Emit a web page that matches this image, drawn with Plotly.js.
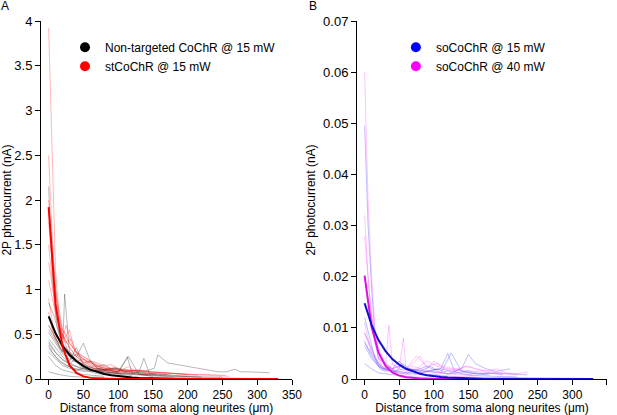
<!DOCTYPE html>
<html>
<head>
<meta charset="utf-8">
<script src="https://cdn.plot.ly/plotly-3.0.1.min.js"></script>
<style>
  html, body { margin: 0; padding: 0; background: #fff; }
  #chart { width: 617px; height: 415px; }
</style>
</head>
<body>
<div id="chart"></div>
<script>
// ---- panel A: individual neurites, non-targeted CoChR (grey) ----
var ntX = [
    [0, 8, 15, 22, 30, 40, 50, 60, 75, 90, 105, 120],
    [0, 10, 20, 23, 30, 40, 50, 60, 70, 85, 100, 115, 130, 150],
    [0, 10, 20, 30, 45, 60, 80, 100, 120, 140, 160, 180],
    [0, 5, 15, 25, 35, 50, 65, 80, 95, 110, 125, 140, 152, 157, 171, 244, 256, 268, 276, 287, 318],
    [0, 10, 20, 30, 40, 50, 60, 70, 80, 95, 110],
    [0, 10, 20, 30, 40, 55, 70, 85, 100, 113, 120, 130, 137, 145, 160, 175, 200],
    [0, 15, 30, 50, 70, 90, 110, 130],
    [0, 5, 12, 20, 30, 40, 50, 65, 80, 100, 120, 140, 160, 180, 200, 220],
    [0, 10, 20, 30, 40, 50, 60, 75, 90],
    [0, 10, 20, 35, 50, 70, 90, 110, 130, 150, 170, 190, 210, 230, 250],
    [0, 10, 20, 30, 40, 50, 65, 80],
    [0, 8, 16, 25, 35, 45, 55, 65, 80, 95, 110, 125, 140, 155],
    [0, 10, 20, 30, 40, 50, 60, 70, 80, 90, 100, 110, 120, 135, 150, 170],
    [0, 6, 14, 22, 30, 38, 46, 55, 65, 75, 85, 95, 105]
];
var ntY = [
    [0.85, 0.7, 0.5, 0.35, 0.25, 0.2, 0.15, 0.1, 0.08, 0.06, 0.05, 0.04],
    [0.6, 0.45, 0.3, 0.95, 0.3, 0.25, 0.4, 0.2, 0.12, 0.1, 0.08, 0.25, 0.05, 0.03],
    [0.45, 0.35, 0.25, 0.18, 0.12, 0.1, 0.08, 0.06, 0.05, 0.04, 0.03, 0.02],
    [0.38, 0.3, 0.2, 0.15, 0.12, 0.1, 0.09, 0.1, 0.12, 0.08, 0.1, 0.09, 0.12, 0.27, 0.18, 0.08, 0.08, 0.11, 0.08, 0.08, 0.07],
    [0.35, 0.25, 0.18, 0.14, 0.1, 0.12, 0.08, 0.06, 0.05, 0.04, 0.03],
    [0.3, 0.22, 0.15, 0.12, 0.1, 0.08, 0.09, 0.11, 0.07, 0.25, 0.06, 0.08, 0.23, 0.06, 0.05, 0.04, 0.03],
    [0.08, 0.05, 0.03, 0.02, 0.02, 0.01, 0.01, 0.01],
    [2.15, 1.2, 0.6, 0.4, 0.3, 0.2, 0.15, 0.12, 0.1, 0.08, 0.06, 0.05, 0.04, 0.03, 0.03, 0.02],
    [0.52, 0.4, 0.28, 0.2, 0.35, 0.15, 0.1, 0.07, 0.05],
    [0.42, 0.3, 0.22, 0.15, 0.12, 0.09, 0.07, 0.06, 0.05, 0.04, 0.035, 0.03, 0.025, 0.02, 0.02],
    [0.25, 0.15, 0.1, 0.08, 0.06, 0.05, 0.04, 0.03],
    [0.7, 0.5, 0.35, 0.3, 0.2, 0.18, 0.15, 0.12, 0.1, 0.13, 0.08, 0.07, 0.06, 0.05],
    [0.55, 0.42, 0.3, 0.22, 0.28, 0.18, 0.2, 0.14, 0.16, 0.11, 0.12, 0.09, 0.08, 0.07, 0.06, 0.05],
    [0.4, 0.33, 0.26, 0.2, 0.17, 0.22, 0.14, 0.12, 0.1, 0.12, 0.08, 0.07, 0.06]
];

// ---- panel A: stCoChR (red) ----
var stX = [
    [0, 5, 10, 15, 20, 30, 40, 50, 60, 75, 90, 105, 120, 140],
    [0, 5, 10, 15, 20, 25, 35, 45, 55, 70, 85, 100, 120, 140, 160, 180, 200],
    [0, 5, 10, 20, 30, 40, 50, 60, 70, 80, 95, 110, 130, 150, 170, 190, 210, 230, 255],
    [0, 8, 15, 22, 30, 38, 45, 55, 65, 80, 95, 110, 125],
    [0, 6, 12, 20, 28, 35, 45, 55, 70, 85, 100],
    [0, 5, 10, 18, 25, 32, 40, 50, 60, 70, 80, 90, 100, 115, 130, 150, 170, 195, 215],
    [0, 10, 20, 30, 40, 50, 60, 70, 80, 90, 100, 110],
    [0, 5, 10, 15, 20, 25, 30, 40, 50, 60, 75, 90, 110, 130, 150, 175],
    [0, 10, 20, 30, 40, 50, 60, 80, 100, 120, 140, 160, 180, 200, 230, 260],
    [0, 5, 10, 15, 20, 30, 40, 50, 60, 70, 85, 100, 115, 130, 145]
];
var stY = [
    [3.92, 2.4, 1.2, 0.7, 0.5, 0.35, 0.25, 0.18, 0.12, 0.1, 0.09, 0.08, 0.06, 0.05],
    [2.5, 1.6, 1.0, 0.6, 0.45, 0.6, 0.35, 0.25, 0.2, 0.15, 0.12, 0.1, 0.1, 0.08, 0.07, 0.06, 0.05],
    [2.0, 1.5, 1.0, 0.55, 0.4, 0.3, 0.22, 0.18, 0.15, 0.12, 0.1, 0.09, 0.1, 0.08, 0.07, 0.06, 0.05, 0.05, 0.04],
    [1.1, 0.8, 0.6, 0.45, 0.55, 0.3, 0.25, 0.2, 0.15, 0.12, 0.1, 0.08, 0.07],
    [0.9, 0.6, 0.45, 0.5, 0.3, 0.25, 0.2, 0.15, 0.1, 0.08, 0.06],
    [1.5, 1.1, 0.7, 0.5, 0.4, 0.45, 0.3, 0.25, 0.2, 0.18, 0.15, 0.16, 0.12, 0.1, 0.09, 0.08, 0.06, 0.05, 0.04],
    [0.6, 0.45, 0.35, 0.28, 0.2, 0.22, 0.15, 0.12, 0.1, 0.08, 0.07, 0.06],
    [1.75, 1.3, 0.95, 0.7, 0.55, 0.5, 0.4, 0.3, 0.25, 0.2, 0.15, 0.12, 0.1, 0.08, 0.06, 0.05],
    [1.3, 0.8, 0.5, 0.35, 0.25, 0.2, 0.15, 0.12, 0.1, 0.09, 0.08, 0.07, 0.06, 0.05, 0.04, 0.03],
    [0.75, 0.55, 0.45, 0.4, 0.35, 0.3, 0.2, 0.15, 0.2, 0.12, 0.1, 0.08, 0.14, 0.06, 0.05]
];

// ---- panel B: soCoChR @ 15 mW (blue) ----
var so15X = [
    [0, 5, 10, 15, 20, 30, 40, 50, 60, 75, 90, 110, 130, 150, 170, 190, 210, 235],
    [0, 8, 15, 22, 30, 40, 50, 60, 70, 80, 90, 100, 110, 120, 130, 140, 150, 160, 175, 190, 210],
    [0, 10, 20, 30, 40, 50, 60, 70, 80, 90, 100, 110, 120],
    [0, 10, 18, 25, 35, 45, 55, 65, 80, 95, 110, 125, 140, 160, 180],
    [0, 10, 20, 30, 40, 50, 60, 70, 85, 100],
    [0, 6, 12, 20, 28, 36, 45, 55, 65, 75, 90, 105, 120, 135, 150, 165, 180, 200],
    [0, 10, 20, 30, 45, 60, 75, 90, 105, 120, 135, 150, 170, 195, 220]
];
var so15Y = [
    [0.0495, 0.03, 0.018, 0.008, 0.004, 0.003, 0.002, 0.0025, 0.002, 0.0018, 0.0015, 0.002, 0.0012, 0.0015, 0.001, 0.0012, 0.001, 0.0008],
    [0.012, 0.008, 0.004, 0.002, 0.0015, 0.002, 0.0035, 0.002, 0.0015, 0.002, 0.0025, 0.0018, 0.002, 0.005, 0.0015, 0.002, 0.0048, 0.003, 0.002, 0.0015, 0.002],
    [0.009, 0.006, 0.003, 0.002, 0.0015, 0.0012, 0.001, 0.0015, 0.001, 0.0008, 0.001, 0.0006, 0.0005],
    [0.007, 0.005, 0.0035, 0.002, 0.0018, 0.0015, 0.003, 0.002, 0.0015, 0.0025, 0.0012, 0.0051, 0.0015, 0.001, 0.0008],
    [0.003, 0.002, 0.0012, 0.001, 0.0008, 0.0006, 0.0005, 0.0004, 0.0003, 0.0002],
    [0.0075, 0.0055, 0.004, 0.0025, 0.002, 0.0022, 0.0015, 0.002, 0.0018, 0.0012, 0.0015, 0.002, 0.001, 0.0018, 0.0012, 0.001, 0.0012, 0.0008],
    [0.0065, 0.004, 0.0025, 0.0018, 0.0015, 0.0012, 0.001, 0.0015, 0.0012, 0.001, 0.0012, 0.0008, 0.0006, 0.0005, 0.0004]
];

// ---- panel B: soCoChR @ 40 mW (magenta) ----
var so40X = [
    [0, 5, 10, 15, 20, 30, 40, 50, 60, 70, 80, 90, 100, 115, 130, 145, 160, 175, 190, 205, 220, 235],
    [0, 5, 10, 15, 20, 25, 30, 35, 40, 50, 56, 60, 70, 85, 100, 120, 140, 160],
    [0, 8, 15, 22, 30, 40, 50, 60, 75, 90, 105, 120, 135, 150, 165, 180, 200],
    [0, 5, 10, 18, 25, 35, 45, 55, 70, 85, 100, 115, 130, 150, 170],
    [0, 8, 16, 24, 32, 40, 50, 60, 70, 80, 95, 110, 125, 140, 155],
    [0, 10, 20, 30, 40, 50, 60, 75, 90, 105, 120, 140, 160, 180, 200, 220]
];
var so40Y = [
    [0.060, 0.035, 0.02, 0.01, 0.005, 0.003, 0.002, 0.0025, 0.002, 0.003, 0.0045, 0.002, 0.0035, 0.002, 0.0015, 0.0025, 0.002, 0.0015, 0.002, 0.0012, 0.001, 0.0014],
    [0.032, 0.02, 0.012, 0.007, 0.004, 0.0025, 0.002, 0.0105, 0.003, 0.002, 0.008, 0.0015, 0.002, 0.0012, 0.0015, 0.001, 0.0008, 0.0006],
    [0.028, 0.015, 0.008, 0.004, 0.0025, 0.002, 0.0035, 0.002, 0.0045, 0.0025, 0.003, 0.0022, 0.002, 0.0025, 0.0018, 0.0015, 0.0012],
    [0.011, 0.008, 0.005, 0.003, 0.002, 0.0015, 0.0012, 0.001, 0.0008, 0.0009, 0.0007, 0.0006, 0.0005, 0.0004, 0.0003],
    [0.009, 0.006, 0.004, 0.0025, 0.002, 0.003, 0.002, 0.0015, 0.0025, 0.002, 0.0015, 0.0012, 0.0018, 0.001, 0.0008],
    [0.02, 0.012, 0.006, 0.003, 0.002, 0.0015, 0.0012, 0.002, 0.0035, 0.0025, 0.002, 0.0018, 0.0015, 0.0012, 0.001, 0.0008]
];

// ---- fitted decay curves ----
var fitX = [0, 10, 20, 30, 40, 50, 60, 70, 80, 90, 100, 110, 120, 130, 140, 150, 160,
    170, 180, 190, 200, 210, 220, 230, 240, 250, 260, 270, 280, 290, 300, 310, 320, 330];
var ntFit = [0.70, 0.51, 0.37, 0.27, 0.20, 0.145, 0.105, 0.077, 0.056, 0.041, 0.030, 0.022,
    0.016, 0.012, 0.0085, 0.006, 0.0045, 0.003, 0.002, 0.0015, 0.001, 0.0008, 0.0005,
    0.0004, 0.0003, 0.0002, 0.0002, 0.0001, 0.0001, 0, 0, 0, 0, 0];
var stFit = [1.92, 0.83, 0.36, 0.155, 0.067, 0.029, 0.0125, 0.005, 0.002, 0.001, 0.0004,
    0.0002, 0.0001, 0, 0, 0, 0, 0, 0, 0, 0, 0, 0, 0, 0, 0, 0, 0, 0, 0, 0, 0, 0, 0];
var so15Fit = [0.0148, 0.0106, 0.0076, 0.0055, 0.0039, 0.0028, 0.0020, 0.00145, 0.00104,
    0.00075, 0.00053, 0.00038, 0.00027, 0.0002, 0.00014, 0.0001, 0.00007, 0.00005,
    0.00004, 0.00003, 0.00002, 0.00001, 0, 0, 0, 0, 0, 0, 0, 0, 0, 0, 0, 0];
var so40Fit = [0.0202, 0.0102, 0.0052, 0.0026, 0.0013, 0.00067, 0.00034, 0.00017, 0.00009,
    0.00004, 0.00002, 0.00001, 0, 0, 0, 0, 0, 0, 0, 0, 0, 0, 0, 0, 0, 0, 0, 0, 0, 0, 0, 0, 0, 0];

var legendA = ['Non-targeted CoChR @ 15 mW', 'stCoChR @ 15 mW'];
var legendB = ['soCoChR @ 15 mW', 'soCoChR @ 40 mW'];

var FONT = 'Liberation Sans, Arial, sans-serif';
var traces = [];

function addThin(xs, ys, color, xa, ya) {
    for (var i = 0; i < xs.length; i++) {
        traces.push({
            x: xs[i], y: ys[i], xaxis: xa, yaxis: ya,
            type: 'scatter', mode: 'lines',
            line: {color: color, width: 1},
            showlegend: false, hoverinfo: 'skip'
        });
    }
}

addThin(ntX, ntY, 'rgba(0,0,0,0.28)', 'x', 'y');
addThin(stX, stY, 'rgba(255,0,0,0.28)', 'x', 'y');
addThin(so15X, so15Y, 'rgba(40,40,255,0.3)', 'x2', 'y2');
addThin(so40X, so40Y, 'rgba(255,60,255,0.3)', 'x2', 'y2');

function addFit(y, color, xa, ya) {
    traces.push({
        x: fitX, y: y, xaxis: xa, yaxis: ya,
        type: 'scatter', mode: 'lines', line: {color: color, width: 2},
        showlegend: false
    });
}
addFit(ntFit, '#000000', 'x', 'y');
addFit(stFit, '#ff0000', 'x', 'y');
addFit(so40Fit, '#e010e0', 'x2', 'y2');
addFit(so15Fit, '#1010d0', 'x2', 'y2');

// legend-only entries (round markers as in the figure)
function addKey(name, color, xa, ya, leg) {
    traces.push({
        x: [null], y: [null], xaxis: xa, yaxis: ya,
        type: 'scatter', mode: 'markers', name: name,
        marker: {color: color, size: 10}, legend: leg
    });
}
addKey(legendA[0], '#000000', 'x', 'y', 'legend');
addKey(legendA[1], '#ff0000', 'x', 'y', 'legend');
addKey(legendB[0], '#0000ff', 'x2', 'y2', 'legend2');
addKey(legendB[1], '#ff00ff', 'x2', 'y2', 'legend2');

function xAxis(domain, anchor) {
    return {
        domain: domain, anchor: anchor, range: [-11, 350],
        tickvals: [0, 50, 100, 150, 200, 250, 300, 350],
        ticks: 'outside', ticklen: 5, tickwidth: 1, tickcolor: '#000',
        showline: true, linecolor: '#000', linewidth: 1,
        showgrid: false, zeroline: false,
        tickfont: {family: FONT, size: 12, color: '#000'},
        title: {text: 'Distance from soma along neurites (μm)',
            font: {family: FONT, size: 12, color: '#000'}, standoff: 4}
    };
}
function yAxis(range, dtick, anchor) {
    return {
        anchor: anchor, range: range, dtick: dtick,
        ticks: 'outside', ticklen: 5, tickwidth: 1, tickcolor: '#000',
        showline: true, linecolor: '#000', linewidth: 1,
        showgrid: false, zeroline: false,
        tickfont: {family: FONT, size: 13, color: '#000'},
        title: {text: '2P photocurrent (nA)',
            font: {family: FONT, size: 12, color: '#000'}, standoff: 4}
    };
}

var layout = {
    width: 617,
    height: 415,
    margin: {l: 41, r: 10, t: 21, b: 36},
    paper_bgcolor: '#fff',
    plot_bgcolor: '#fff',
    font: {family: FONT, size: 12, color: '#000'},
    xaxis: xAxis([0, 0.4435], 'y'),
    yaxis: yAxis([0, 4], 0.5, 'x'),
    xaxis2: xAxis([0.5583, 1], 'y2'),
    yaxis2: yAxis([0, 0.07], 0.01, 'x2'),
    legend: {x: 0.0424, y: 0.967, xanchor: 'left', yanchor: 'top',
        bgcolor: 'rgba(0,0,0,0)', font: {family: FONT, size: 12}, itemclick: false},
    legend2: {x: 0.627, y: 0.967, xanchor: 'left', yanchor: 'top',
        bgcolor: 'rgba(0,0,0,0)', font: {family: FONT, size: 12}, itemclick: false},
    annotations: [
        {text: 'A', xref: 'paper', yref: 'paper', x: -0.0745, y: 1.068,
            xanchor: 'left', yanchor: 'top', showarrow: false,
            font: {family: FONT, size: 12}},
        {text: 'B', xref: 'paper', yref: 'paper', x: 0.47, y: 1.068,
            xanchor: 'left', yanchor: 'top', showarrow: false,
            font: {family: FONT, size: 12}}
    ]
};

Plotly.newPlot('chart', traces, layout, {displayModeBar: false, responsive: false});
</script>
</body>
</html>
